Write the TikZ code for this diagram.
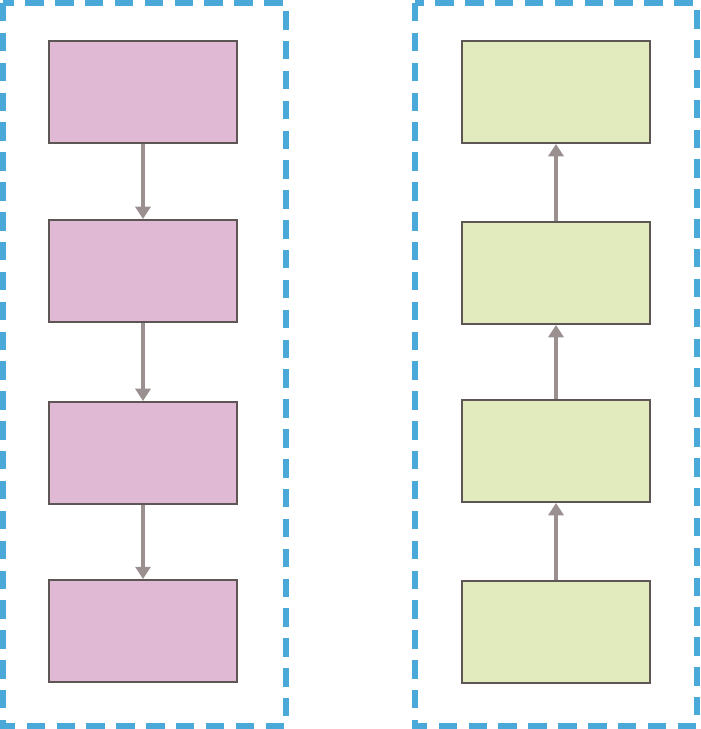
\documentclass[tikz,border=0pt]{standalone}
\usetikzlibrary{arrows.meta}
\definecolor{frameblue}{HTML}{4BA9DA}
\definecolor{boxpink}{HTML}{E0B9D5}
\definecolor{boxgreen}{HTML}{E2EBBE}
\definecolor{boxedge}{HTML}{5E5555}
\definecolor{arrowgray}{HTML}{9A9090}
\tikzset{
  frame/.style={draw=frameblue, line width=2.9pt, dash pattern=on 10.5pt off 6.5pt},
  block/.style={draw=boxedge, line width=1.1pt, minimum width=3.76cm, minimum height=2.04cm, inner sep=0pt},
  flow/.style={draw=arrowgray, line width=2.1pt, -{Triangle[length=7pt, width=8.5pt]}}
}
\begin{document}
\begin{tikzpicture}[x=0.02cm, y=-0.02cm]
  \useasboundingbox (0,0) rectangle (700,729);
  % dashed frames
  \draw[frame] (3,3) rectangle (286,726);
  \draw[frame] (415,3) rectangle (697,726);
  % left column
  \foreach \i/\y in {1/92, 2/271, 3/453, 4/631} {
    \node[block, fill=boxpink] (p\i) at (143,\y) {};
  }
  % right column
  \foreach \i/\y in {1/92, 2/273, 3/451, 4/632} {
    \node[block, fill=boxgreen] (g\i) at (556,\y) {};
  }
  \foreach \a/\b in {1/2, 2/3, 3/4} {
    \draw[flow] (p\a.south) -- (p\b.north);
    \draw[flow] (g\b.north) -- (g\a.south);
  }
\end{tikzpicture}
\end{document}
